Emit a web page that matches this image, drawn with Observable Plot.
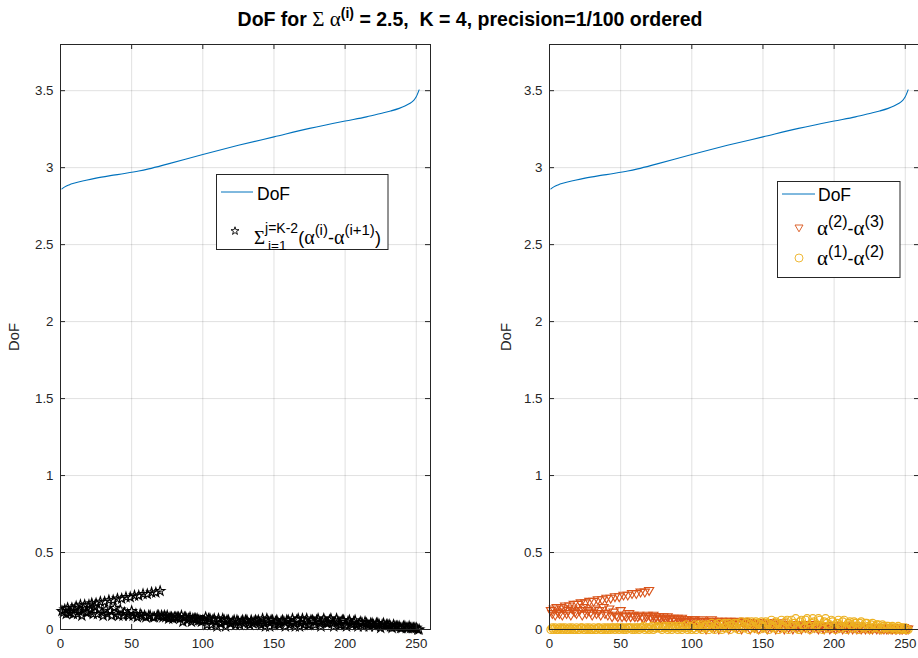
<!DOCTYPE html>
<html><head><meta charset="utf-8">
<script src="https://cdn.jsdelivr.net/npm/d3@7"></script>
<script src="https://cdn.jsdelivr.net/npm/@observablehq/plot@0.6"></script>
<style>
html,body{margin:0;padding:0;background:#fff;}
#fig{position:relative;width:918px;height:658px;overflow:hidden;background:#fff;font-family:"Liberation Sans",Arial,sans-serif;}
#fig > svg{position:absolute;top:0;}
</style></head><body><div id="fig"></div>
<script>
// ---- data ----
const xTicks = [0, 50, 100, 150, 200, 250];
const yTicks = [0, 0.5, 1, 1.5, 2, 2.5, 3, 3.5];
const xDomain = [0, 260];
const yDomain = [0, 3.8];

// DoF curve (read at sample positions)
const dofX = [1, 3, 6, 10, 18, 25, 35, 45, 55, 62, 75, 100, 125, 150, 175, 200, 215, 225, 232, 238, 242, 245, 248, 250, 252];
const dofY = [2.862, 2.875, 2.888, 2.90, 2.918, 2.932, 2.948, 2.962, 2.978, 2.992, 3.023, 3.086, 3.145, 3.20, 3.255, 3.303, 3.33, 3.352, 3.368, 3.385, 3.40, 3.415, 3.435, 3.46, 3.505];

// sum_{i=1}^{K-2} (alpha(i) - alpha(i+1)), one value per ordered combination (index 1..252)
const sumDiff = [
0.12,0.11,0.13,0.10,0.14,0.11,0.11,0.14,0.10,0.13,
0.15,0.10,0.12,0.16,0.09,0.14,0.16,0.11,0.11,0.16,
0.12,0.17,0.10,0.15,0.17,0.10,0.13,0.18,0.11,0.09,
0.18,0.13,0.10,0.19,0.12,0.09,0.19,0.14,0.10,0.20,
0.09,0.13,0.20,0.09,0.11,0.21,0.10,0.09,0.21,0.12,
0.09,0.22,0.10,0.08,0.22,0.10,0.09,0.23,0.09,0.08,
0.23,0.09,0.09,0.24,0.08,0.08,0.24,0.09,0.09,0.25,
0.09,0.08,0.09,0.08,0.09,0.07,0.08,0.08,0.07,0.08,
0.08,0.08,0.08,0.07,0.09,0.05,0.08,0.08,0.06,0.07,
0.08,0.05,0.07,0.07,0.07,0.07,0.06,0.06,0.05,0.06,
0.06,0.08,0.03,0.07,0.07,0.03,0.06,0.07,0.05,0.02,
0.07,0.04,0.04,0.07,0.06,0.02,0.06,0.06,0.04,0.04,
0.05,0.06,0.03,0.06,0.05,0.03,0.05,0.06,0.04,0.06,
0.06,0.04,0.03,0.06,0.04,0.05,0.06,0.05,0.06,0.04,
0.03,0.07,0.04,0.02,0.07,0.05,0.02,0.06,0.06,0.03,
0.05,0.06,0.04,0.03,0.05,0.06,0.05,0.02,0.06,0.06,
0.03,0.04,0.07,0.04,0.02,0.06,0.07,0.02,0.04,0.07,
0.03,0.05,0.07,0.03,0.03,0.06,0.06,0.05,0.03,0.06,
0.07,0.04,0.02,0.05,0.07,0.05,0.04,0.04,0.06,0.07,
0.04,0.02,0.05,0.07,0.05,0.03,0.03,0.06,0.06,0.03,
0.02,0.05,0.06,0.04,0.03,0.05,0.06,0.03,0.02,0.04,
0.05,0.04,0.02,0.05,0.04,0.03,0.02,0.04,0.04,0.03,
0.02,0.04,0.04,0.03,0.01,0.03,0.04,0.02,0.03,0.03,
0.03,0.02,0.01,0.03,0.02,0.02,0.02,0.02,0.01,0.01,
0.02,0.02,0.01,0.01,0.02,0.01,0.01,0.01,0.01,0.01,
0.00,0.00
];

// alpha(2) - alpha(3)
const diff23 = [
0.12,0.10,0.13,0.09,0.14,0.11,0.10,0.14,0.09,0.13,
0.15,0.10,0.12,0.15,0.09,0.13,0.16,0.11,0.10,0.16,
0.12,0.17,0.09,0.14,0.17,0.10,0.12,0.18,0.11,0.09,
0.18,0.13,0.10,0.19,0.12,0.09,0.19,0.14,0.10,0.20,
0.09,0.13,0.20,0.08,0.11,0.21,0.09,0.08,0.21,0.12,
0.08,0.22,0.09,0.08,0.22,0.10,0.08,0.23,0.09,0.08,
0.23,0.08,0.09,0.24,0.08,0.07,0.24,0.08,0.09,0.25,
0.08,0.07,0.09,0.07,0.08,0.06,0.08,0.07,0.06,0.08,
0.07,0.06,0.08,0.06,0.07,0.05,0.07,0.06,0.05,0.07,
0.06,0.04,0.07,0.05,0.06,0.04,0.06,0.05,0.03,0.06,
0.05,0.06,0.02,0.05,0.04,0.01,0.06,0.05,0.03,0.00,
0.05,0.04,0.02,0.06,0.05,0.01,0.04,0.05,0.00,0.03,
0.05,0.04,0.01,0.05,0.03,0.00,0.05,0.04,0.02,0.04,
0.05,0.01,0.03,0.04,0.00,0.04,0.05,0.02,0.03,0.04,
0.00,0.04,0.03,0.01,0.04,0.03,0.00,0.04,0.03,0.01,
0.04,0.02,0.00,0.04,0.03,0.01,0.03,0.04,0.00,0.02,
0.03,0.01,0.04,0.02,0.00,0.03,0.03,0.01,0.02,0.03,
0.00,0.03,0.02,0.01,0.03,0.02,0.00,0.03,0.02,0.01,
0.02,0.03,0.00,0.02,0.02,0.01,0.03,0.01,0.00,0.02,
0.02,0.01,0.00,0.02,0.01,0.02,0.00,0.01,0.02,0.01,
0.00,0.02,0.01,0.01,0.02,0.00,0.01,0.02,0.01,0.00,
0.01,0.02,0.00,0.01,0.01,0.00,0.02,0.01,0.00,0.01,
0.01,0.00,0.01,0.01,0.00,0.01,0.00,0.01,0.01,0.00,
0.01,0.00,0.00,0.01,0.00,0.01,0.00,0.00,0.01,0.00,
0.00,0.01,0.00,0.00,0.01,0.00,0.00,0.00,0.01,0.00,
0.00,0.00
];

// alpha(1) - alpha(2)
const diff12 = [
0.00,0.01,0.00,0.01,0.00,0.00,0.01,0.00,0.01,0.00,
0.01,0.00,0.00,0.01,0.00,0.01,0.00,0.00,0.01,0.00,
0.00,0.01,0.01,0.00,0.00,0.01,0.00,0.01,0.00,0.00,
0.01,0.00,0.00,0.01,0.01,0.00,0.00,0.01,0.00,0.01,
0.00,0.01,0.00,0.01,0.01,0.00,0.01,0.01,0.00,0.01,
0.01,0.00,0.01,0.00,0.01,0.01,0.01,0.00,0.01,0.00,
0.01,0.01,0.00,0.01,0.01,0.02,0.00,0.01,0.01,0.00,
0.01,0.02,0.00,0.01,0.01,0.02,0.01,0.01,0.00,0.02,
0.01,0.02,0.00,0.01,0.02,0.00,0.01,0.02,0.01,0.00,
0.02,0.01,0.00,0.02,0.01,0.03,0.00,0.01,0.02,0.00,
0.01,0.03,0.00,0.02,0.03,0.01,0.00,0.03,0.02,0.01,
0.03,0.00,0.02,0.04,0.01,0.00,0.03,0.02,0.04,0.01,
0.00,0.03,0.04,0.01,0.02,0.04,0.00,0.03,0.02,0.04,
0.01,0.04,0.00,0.03,0.05,0.02,0.01,0.04,0.05,0.00,
0.03,0.05,0.02,0.01,0.05,0.04,0.00,0.03,0.05,0.02,
0.01,0.05,0.04,0.00,0.03,0.06,0.02,0.01,0.05,0.04,
0.00,0.03,0.06,0.02,0.01,0.05,0.06,0.00,0.03,0.06,
0.02,0.04,0.07,0.01,0.00,0.05,0.06,0.03,0.01,0.06,
0.07,0.02,0.00,0.04,0.07,0.05,0.01,0.03,0.07,0.06,
0.02,0.00,0.05,0.07,0.04,0.01,0.03,0.06,0.05,0.02,
0.00,0.04,0.06,0.03,0.01,0.05,0.06,0.02,0.00,0.04,
0.05,0.03,0.01,0.05,0.04,0.02,0.00,0.04,0.05,0.02,
0.01,0.04,0.04,0.02,0.00,0.03,0.04,0.01,0.02,0.03,
0.03,0.01,0.00,0.03,0.02,0.01,0.02,0.02,0.00,0.01,
0.02,0.01,0.00,0.01,0.02,0.00,0.01,0.01,0.00,0.01,
0.00,0.00
];

const legendLeft = ["DoF"];
const legendRight = ["DoF"];
const colors = {dof: "#0072BD", d23: "#D95319", d12: "#EDB120", sum: "#000000"};

// ---- helpers ----
const AX = "#262626";
const idx = (d, i) => i + 1;
const triDown = {
  draw(ctx, size) {
    const r = Math.sqrt(size / Math.PI);
    ctx.moveTo(-r, -r * 0.75);
    ctx.lineTo(r, -r * 0.75);
    ctx.lineTo(0, r * 0.95);
    ctx.closePath();
  }
};

function panel(dataMarks) {
  const W = 440, H = 658, mL = 60, mR = 10, mT = 44, mB = 29;
  const fw = W - mL - mR, fh = H - mT - mB;
  return Plot.plot({
    width: W, height: H,
    marginLeft: mL, marginRight: mR, marginTop: mT, marginBottom: mB,
    style: {fontFamily: '"Liberation Sans", Arial, sans-serif', fontSize: "13.3px", color: AX, background: "transparent", overflow: "visible"},
    x: {domain: xDomain, label: null},
    y: {domain: yDomain, label: null},
    marks: [
      Plot.gridX(xTicks, {stroke: "#000", strokeOpacity: 0.12}),
      Plot.gridY(yTicks, {stroke: "#000", strokeOpacity: 0.12}),
      ...dataMarks,
      Plot.ruleX(xTicks, {stroke: AX, insetTop: fh - 5}),
      Plot.ruleX(xTicks, {stroke: AX, insetBottom: fh - 5}),
      Plot.ruleY(yTicks, {stroke: AX, insetRight: fw - 5}),
      Plot.ruleY(yTicks, {stroke: AX, insetLeft: fw - 5}),
      Plot.frame({stroke: AX, strokeWidth: 1}),
      Plot.axisX(xTicks, {tickSize: 0, tickPadding: 9, label: null, tickFormat: d => String(d)}),
      Plot.axisY(yTicks, {tickSize: 0, tickPadding: 7, label: null, tickFormat: d => String(d)})
    ]
  });
}

const fig = document.getElementById("fig");

const left = panel([
  Plot.line(dofY, {x: dofX, y: dofY, stroke: colors.dof, strokeWidth: 1.1, curve: "monotone-x"}),
  Plot.dot(sumDiff, {x: idx, y: d => d, symbol: "star", r: 3, stroke: colors.sum, fill: "none", strokeWidth: 1.1})
]);
left.style.left = "0px";
fig.appendChild(left);

const right = panel([
  Plot.line(dofY, {x: dofX, y: dofY, stroke: colors.dof, strokeWidth: 1.1, curve: "monotone-x"}),
  Plot.dot(diff23, {x: idx, y: d => d, symbol: triDown, r: 4.6, stroke: colors.d23, fill: "none", strokeWidth: 1.1}),
  Plot.dot(diff12, {x: idx, y: d => d, symbol: "circle", r: 4, stroke: colors.d12, fill: "none", strokeWidth: 1.2})
]);
right.style.left = "489px";
fig.appendChild(right);

// ---- overlay: title, y labels, legends ----
const starPath = d3.symbol(d3.symbolStar, 20)();
const triPath = (() => { const p = d3.path(); triDown.draw(p, Math.PI * 4 * 4); return p.toString(); })();
const serif = '"Liberation Serif", "DejaVu Serif", serif';
const overlay = `
<svg xmlns="http://www.w3.org/2000/svg" width="918" height="658" style="left:0;top:0;pointer-events:none;font-family:'Liberation Sans',Arial,sans-serif">
  <text x="470" y="26" text-anchor="middle" font-weight="bold" font-size="19.5" fill="#000">DoF for <tspan font-family='${serif}' font-weight="normal" font-size="21">Σ\u00A0α</tspan><tspan font-size="14" dy="-8">(i)</tspan><tspan dy="8"> = 2.5,\u00A0 K = 4, precision=1/100 ordered</tspan></text>
  <text transform="translate(19,337) rotate(-90)" text-anchor="middle" font-size="14.7" fill="${AX}">DoF</text>
  <text transform="translate(511,337) rotate(-90)" text-anchor="middle" font-size="14.7" fill="${AX}">DoF</text>

  <rect x="216.5" y="174.5" width="171.5" height="75" fill="#fff" stroke="${AX}" stroke-width="1"/>
  <line x1="221" x2="253" y1="192" y2="192" stroke="${colors.dof}" stroke-width="1"/>
  <text x="257" y="200" font-size="17.5" fill="#000">${legendLeft[0]}</text>
  <path d="${starPath}" transform="translate(235,231)" fill="none" stroke="#000" stroke-width="0.9"/>
  <text x="254" y="244" font-size="18" fill="#000"><tspan font-family='${serif}' font-size="19">Σ</tspan><tspan font-size="14" dy="-11">j=K-2</tspan><tspan dy="11">(</tspan><tspan font-family='${serif}' font-size="20">α</tspan><tspan font-size="15" dy="-9">(i)</tspan><tspan dy="9">-</tspan><tspan font-family='${serif}' font-size="20">α</tspan><tspan font-size="15" dy="-9">(i+1)</tspan><tspan dy="9">)</tspan></text>
  <text x="268" y="250" font-size="13.5" fill="#000">i=1</text>

  <rect x="777.5" y="181.5" width="122.5" height="96" fill="#fff" stroke="${AX}" stroke-width="1"/>
  <line x1="782" x2="815" y1="194" y2="194" stroke="${colors.dof}" stroke-width="1"/>
  <text x="818" y="201" font-size="17.5" fill="#000">${legendRight[0]}</text>
  <path d="${triPath}" transform="translate(799,228)" fill="none" stroke="${colors.d23}" stroke-width="0.9"/>
  <text x="817" y="235" font-size="18" fill="#000"><tspan font-family='${serif}' font-size="21">α</tspan><tspan font-size="16" dy="-8">(2)</tspan><tspan dy="8">-</tspan><tspan font-family='${serif}' font-size="21">α</tspan><tspan font-size="16" dy="-8">(3)</tspan></text>
  <circle cx="799" cy="258" r="4" fill="none" stroke="${colors.d12}" stroke-width="0.9"/>
  <text x="817" y="265" font-size="18" fill="#000"><tspan font-family='${serif}' font-size="21">α</tspan><tspan font-size="16" dy="-8">(1)</tspan><tspan dy="8">-</tspan><tspan font-family='${serif}' font-size="21">α</tspan><tspan font-size="16" dy="-8">(2)</tspan></text>
</svg>`;
fig.insertAdjacentHTML("beforeend", overlay);
</script>
</body></html>
